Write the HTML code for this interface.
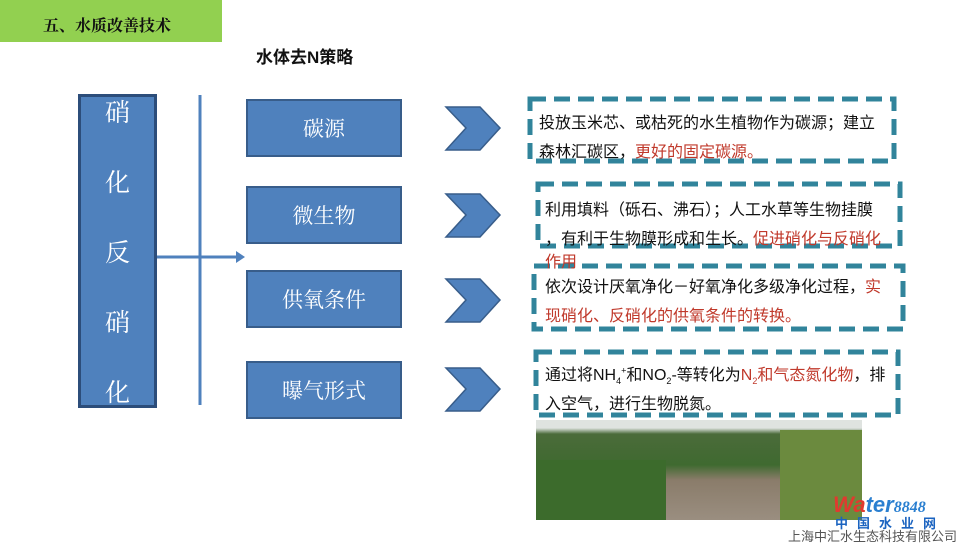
<!DOCTYPE html>
<html><head><meta charset="utf-8"><style>
body{margin:0;width:960px;height:540px;background:#fff;position:relative;overflow:hidden;font-family:"Liberation Sans","Noto Sans CJK SC",sans-serif}
.a{position:absolute}
.bx{position:absolute;background:#4f81bd;border:2px solid #385d8a;box-sizing:border-box;color:#fff;display:flex;align-items:center;justify-content:center;font-size:21px;font-family:"Liberation Serif","Noto Serif CJK SC",serif}
.t{position:absolute;font-size:16px;line-height:29px;color:#111;white-space:nowrap}
.t sub,.t sup{font-size:9px;line-height:0}
.r{color:#c0392b}
</style></head><body>
<div class="a" style="left:0;top:0;width:222px;height:42px;background:#92d050"></div>
<div class="a" style="left:43px;top:13px;font-size:16px;font-weight:bold;font-family:'Noto Serif CJK SC',serif;color:#111">五、水质改善技术</div>
<div class="a" style="left:256px;top:43px;font-size:17px;font-weight:bold;color:#111">水体去N策略</div>
<div class="a" style="left:78px;top:94px;width:79px;height:314px;background:#4f81bd;border:3px solid #2c4d7a;box-sizing:border-box"></div>
<div class="a" style="left:78px;top:76px;width:79px;color:#fff;font-size:25px;font-family:'Noto Serif CJK SC',serif;text-align:center;line-height:70px">硝<br>化<br>反<br>硝<br>化</div>
<svg class="a" style="left:0;top:0" width="960" height="540">
<line x1="200" y1="95" x2="200" y2="405" stroke="#4f81bd" stroke-width="3"/>
<line x1="157" y1="257" x2="240" y2="257" stroke="#4f81bd" stroke-width="3"/>
<polygon points="236,251 245,257 236,263" fill="#4f81bd"/>
<g fill="#4f81bd" stroke="#385d8a" stroke-width="1.5">
<polygon points="446,107 480,107 500,128 480,150 446,150 466,128"/>
<polygon points="446,194 480,194 500,215 480,237 446,237 466,215"/>
<polygon points="446,279 480,279 500,300 480,322 446,322 466,300"/>
<polygon points="446,368 480,368 500,389 480,411 446,411 466,389"/>
</g>
<g fill="none" stroke="#31849b" stroke-width="5" stroke-dasharray="16,8">
<rect x="530" y="99" width="364" height="62"/>
<rect x="538" y="184" width="362" height="62"/>
<rect x="534" y="266" width="369" height="63"/>
<rect x="536" y="352" width="362" height="63"/>
</g>
</svg>
<div class="bx" style="left:246px;top:99px;width:156px;height:58px">碳源</div>
<div class="bx" style="left:246px;top:186px;width:156px;height:58px">微生物</div>
<div class="bx" style="left:246px;top:270px;width:156px;height:58px">供氧条件</div>
<div class="bx" style="left:246px;top:361px;width:156px;height:58px">曝气形式</div>
<div class="t" style="left:539px;top:109px">投放玉米芯、或枯死的水生植物作为碳源；建立<br>森林汇碳区，<span class="r">更好的固定碳源。</span></div>
<div class="t" style="left:545px;top:196px">利用填料（砾石、沸石）；人工水草等生物挂膜<br>，有利于生物膜形成和生长。<span class="r">促进硝化与反硝化</span></div>
<div class="t r" style="left:545px;top:253px;line-height:20px">作用</div>
<div class="t" style="left:545px;top:273px">依次设计厌氧净化－好氧净化多级净化过程，<span class="r">实</span><br><span class="r">现硝化、反硝化的供氧条件的转换。</span></div>
<div class="t" style="left:545px;top:361px">通过将NH<sub>4</sub><sup>+</sup>和NO<sub>2</sub>-等转化为<span class="r">N<sub>2</sub>和气态氮化物</span>，排<br>入空气，进行生物脱氮。</div>
<div class="a" style="left:536px;top:420px;width:326px;height:100px;background:linear-gradient(180deg,#dfe3e0 0,#dfe3e0 8%,#4b6b3a 14%,#3f6a30 45%,#8a7c6a 60%,#9a8e80 100%)"></div>
<div class="a" style="left:536px;top:460px;width:130px;height:60px;background:#3c6b2c"></div>
<div class="a" style="left:780px;top:430px;width:82px;height:90px;background:#6b8a3e"></div>
<div class="a" style="left:833px;top:492px;font-size:22px;font-weight:bold;color:#e03a2f;font-style:italic">Wa<span style="color:#2a7fd0">ter</span><span style="color:#2a7fd0;font-size:16px;font-family:'Liberation Serif',serif">8848</span></div>
<div class="a" style="left:835px;top:513px;font-size:13px;font-weight:bold;color:#1a63c0;letter-spacing:9px">中国水业网</div>
<div class="a" style="left:788px;top:526px;font-size:13px;color:#555">上海中汇水生态科技有限公司</div>
</body></html>
